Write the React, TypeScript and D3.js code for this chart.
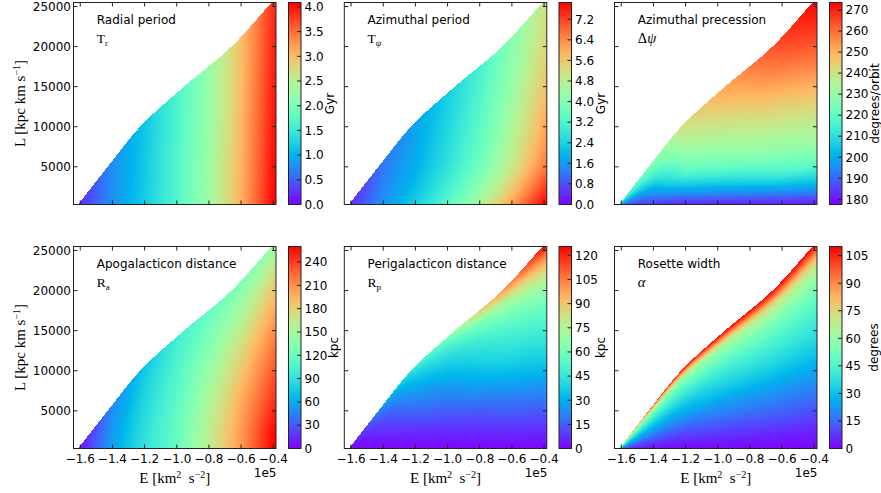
import React, { useMemo } from 'react';
import * as d3 from 'd3';

// ---------------- data ----------------
// Energy columns (units of 1e5 km^2 s^-2) and circularity rows (L / Lmax(E))
const E_COLS = [-1.6, -1.4, -1.2, -1.0, -0.8, -0.6, -0.4];
const C_ROWS = [0, 0.1, 0.2, 0.3, 0.4, 0.5, 0.6, 0.7, 0.8, 0.9, 1.0];

// upper boundary of the allowed region (circular-orbit angular momentum)
const BOUND_E = [-1.625, -1.43, -1.228, -0.955, -0.66, -0.41, -0.36];
const BOUND_L = [0, 5000, 10000, 15000, 20000, 25500, 26600];

const E_DOMAIN = [-1.642, -0.383];
const L_DOMAIN = [300, 25500];

const X_TICKS = [-1.6, -1.4, -1.2, -1.0, -0.8, -0.6, -0.4];
const Y_TICKS = [5000, 10000, 15000, 20000, 25000];

// Radial period T_r [Gyr]   rows: c = 0 .. 1, cols: E_COLS
const TR_GRID = [
  [0.25, 0.80, 1.20, 1.70, 2.30, 3.10, 4.05],
  [0.25, 0.80, 1.20, 1.69, 2.29, 3.09, 4.03],
  [0.25, 0.79, 1.19, 1.69, 2.28, 3.08, 4.01],
  [0.25, 0.79, 1.19, 1.68, 2.27, 3.06, 3.99],
  [0.24, 0.79, 1.18, 1.67, 2.26, 3.05, 3.97],
  [0.24, 0.78, 1.18, 1.67, 2.25, 3.04, 3.95],
  [0.24, 0.78, 1.17, 1.66, 2.24, 3.03, 3.93],
  [0.24, 0.78, 1.17, 1.65, 2.24, 3.01, 3.91],
  [0.24, 0.77, 1.16, 1.65, 2.23, 3.00, 3.89],
  [0.24, 0.77, 1.16, 1.64, 2.22, 2.99, 3.87],
  [0.24, 0.77, 1.15, 1.63, 2.21, 2.98, 3.85],
];

// Azimuthal period T_psi [Gyr]
const TPSI_GRID = [
  [0.51, 1.62, 2.43, 3.44, 4.65, 6.27, 7.85],
  [0.49, 1.54, 2.27, 3.15, 4.23, 5.62, 7.16],
  [0.48, 1.48, 2.14, 2.97, 3.91, 5.13, 6.53],
  [0.47, 1.44, 2.05, 2.79, 3.68, 4.87, 6.18],
  [0.46, 1.41, 1.95, 2.68, 3.54, 4.71, 5.98],
  [0.45, 1.36, 1.90, 2.61, 3.45, 4.58, 5.78],
  [0.44, 1.33, 1.85, 2.54, 3.36, 4.45, 5.59],
  [0.43, 1.30, 1.82, 2.49, 3.29, 4.32, 5.43],
  [0.42, 1.26, 1.77, 2.44, 3.21, 4.20, 5.28],
  [0.41, 1.24, 1.75, 2.39, 3.15, 4.11, 5.17],
  [0.40, 1.22, 1.71, 2.35, 3.08, 4.03, 5.06],
];

// Azimuthal precession [degrees/orbit]
const DPSI_GRID = [
  [178, 178, 178, 178, 178, 178, 178],
  [182, 187, 190, 193, 195, 198, 200],
  [186, 192, 200, 205, 210, 216, 219],
  [190, 197, 209, 217, 222, 226, 230],
  [194, 201, 218, 224, 230, 233, 237],
  [198, 206, 223, 230, 235, 239, 244],
  [202, 211, 228, 235, 240, 245, 251],
  [206, 216, 232, 239, 245, 251, 258],
  [210, 220, 236, 243, 250, 257, 264],
  [213, 224, 239, 247, 254, 262, 269],
  [216, 227, 242, 250, 258, 266, 273],
];

// Apogalacticon distance [kpc]
const RA_GRID = [
  [8, 57, 91, 117, 161, 208, 260],
  [8, 57, 90, 117, 160, 206, 256],
  [8, 56, 89, 116, 158, 203, 247],
  [8, 55, 88, 115, 155, 198, 238],
  [7, 54, 86, 113, 151, 191, 229],
  [7, 53, 84, 111, 146, 183, 220],
  [7, 52, 82, 109, 141, 174, 208],
  [7, 51, 80, 107, 135, 164, 195],
  [6, 50, 78, 104, 129, 153, 182],
  [6, 48, 76, 102, 123, 142, 162],
  [6, 47, 73, 99, 117, 130, 140],
];

// Perigalacticon distance [kpc]
const RP_GRID = [
  [0, 0, 0, 0, 0, 0, 0],
  [0.2, 2, 3, 4, 5, 6, 7],
  [0.4, 3, 6, 8, 10, 13, 15],
  [0.6, 5, 10, 13, 16, 20, 24],
  [0.8, 7, 14, 18, 23, 28, 34],
  [1.0, 9, 18, 23, 30, 36, 41],
  [1.3, 11, 22, 28, 36, 43, 49],
  [1.6, 14, 27, 34, 42, 50, 58],
  [2.0, 17, 32, 40, 49, 59, 71],
  [2.5, 21, 38, 48, 60, 74, 92],
  [3.0, 26, 48, 62, 88, 105, 125],
];

// Rosette width alpha [degrees]
const ALPHA_GRID = [
  [0, 0, 0, 0, 0, 0, 0],
  [4, 4, 4, 5, 5, 5, 5],
  [9, 9, 10, 11, 11, 12, 12],
  [14, 15, 15, 17, 18, 18, 19],
  [20, 21, 22, 23, 24, 25, 26],
  [26, 27, 28, 30, 31, 32, 33],
  [32, 33, 34, 36, 38, 39, 40],
  [39, 40, 42, 43, 45, 46, 47],
  [47, 49, 50, 52, 54, 55, 56],
  [58, 62, 62, 65, 68, 70, 72],
  [80, 100, 108, 110, 110, 110, 110],
];

const TR_TICKS = [0, 0.5, 1.0, 1.5, 2.0, 2.5, 3.0, 3.5, 4.0];
const TPSI_TICKS = [0, 0.8, 1.6, 2.4, 3.2, 4.0, 4.8, 5.6, 6.4, 7.2];
const DPSI_TICKS = [180, 190, 200, 210, 220, 230, 240, 250, 260, 270];
const RA_TICKS = [0, 30, 60, 90, 120, 150, 180, 210, 240];
const RP_TICKS = [0, 15, 30, 45, 60, 75, 90, 105, 120];
const ALPHA_TICKS = [0, 15, 30, 45, 60, 75, 90, 105];

// ---------------- layout ----------------
const W = 881;
const H = 493;
const AX_LEFT = [73.5, 344.3, 614.5];
const AX_TOP = [2.5, 246.5];
const AX_W = 202.5;
const AX_H = 202;
const CB_LEFT = [288.5, 559, 829.5];
const CB_W = 12.5;
const SERIF = '"Liberation Serif", "DejaVu Serif", serif';
const SANS = '"DejaVu Sans", sans-serif';

function rainbow(t: number): string {
  const u = Math.max(0, Math.min(1, t));
  const r = Math.min(1, Math.abs(2 * u - 0.5));
  const g = Math.max(0, Math.sin(Math.PI * u));
  const b = Math.max(0, Math.cos((Math.PI * u) / 2));
  return `rgb(${Math.round(r * 255)},${Math.round(g * 255)},${Math.round(b * 255)})`;
}

// monotone cubic (Fritsch-Carlson) for a smooth boundary through the read points
function makeMonotone(xs: number[], ys: number[]) {
  const n = xs.length;
  const dx: number[] = [], sl: number[] = [];
  for (let i = 0; i < n - 1; i++) {
    dx.push(xs[i + 1] - xs[i]);
    sl.push((ys[i + 1] - ys[i]) / dx[i]);
  }
  const m: number[] = new Array(n);
  m[0] = sl[0];
  m[n - 1] = sl[n - 2];
  for (let i = 1; i < n - 1; i++) {
    if (sl[i - 1] * sl[i] <= 0) m[i] = 0;
    else {
      const w1 = 2 * dx[i] + dx[i - 1];
      const w2 = dx[i] + 2 * dx[i - 1];
      m[i] = (w1 + w2) / (w1 / sl[i - 1] + w2 / sl[i]);
    }
  }
  return (x: number) => {
    if (x <= xs[0]) return ys[0] + m[0] * (x - xs[0]);
    if (x >= xs[n - 1]) return ys[n - 1] + m[n - 1] * (x - xs[n - 1]);
    const i = Math.max(0, Math.min(n - 2, d3.bisectRight(xs, x) - 1));
    const h = dx[i];
    const t = (x - xs[i]) / h;
    const t2 = t * t, t3 = t2 * t;
    return (2 * t3 - 3 * t2 + 1) * ys[i] + (t3 - 2 * t2 + t) * h * m[i] +
      (-2 * t3 + 3 * t2) * ys[i + 1] + (t3 - t2) * h * m[i + 1];
  };
}
const lmaxAt = makeMonotone(BOUND_E, BOUND_L);

function locate(arr: number[], v: number): [number, number] {
  if (v <= arr[0]) return [0, 0];
  if (v >= arr[arr.length - 1]) return [arr.length - 2, 1];
  const i = Math.max(0, d3.bisectRight(arr, v) - 1);
  return [i, (v - arr[i]) / (arr[i + 1] - arr[i])];
}

function gridValue(grid: number[][], e: number, c: number): number {
  const [i, fx] = locate(E_COLS, e);
  const [j, fy] = locate(C_ROWS, c);
  const v00 = grid[j][i], v01 = grid[j][i + 1];
  const v10 = grid[j + 1][i], v11 = grid[j + 1][i + 1];
  return (v00 * (1 - fx) + v01 * fx) * (1 - fy) + (v10 * (1 - fx) + v11 * fx) * fy;
}

type Panel = {
  row: number; col: number; grid: number[][]; vmin: number; vmax: number;
  ticks: number[]; fmt: (v: number) => string; title: string; sym: string;
  cbLabel: string; cbLabelDx: number;
};

const PANELS: Panel[] = [
  { row: 0, col: 0, grid: TR_GRID, vmin: 0, vmax: 4.09, ticks: TR_TICKS, fmt: v => v.toFixed(1), title: 'Radial period', sym: 'Tr', cbLabel: 'Gyr', cbLabelDx: 33 },
  { row: 0, col: 1, grid: TPSI_GRID, vmin: 0, vmax: 7.85, ticks: TPSI_TICKS, fmt: v => v.toFixed(1), title: 'Azimuthal period', sym: 'Tpsi', cbLabel: 'Gyr', cbLabelDx: 33 },
  { row: 0, col: 2, grid: DPSI_GRID, vmin: 177.5, vmax: 273.6, ticks: DPSI_TICKS, fmt: v => String(v), title: 'Azimuthal precession', sym: 'Dpsi', cbLabel: 'degrees/orbit', cbLabelDx: 36.5 },
  { row: 1, col: 0, grid: RA_GRID, vmin: 0, vmax: 260, ticks: RA_TICKS, fmt: v => String(v), title: 'Apogalacticon distance', sym: 'Ra', cbLabel: 'kpc', cbLabelDx: 36.5 },
  { row: 1, col: 1, grid: RP_GRID, vmin: 0, vmax: 125.5, ticks: RP_TICKS, fmt: v => String(v), title: 'Perigalacticon distance', sym: 'Rp', cbLabel: 'kpc', cbLabelDx: 33.5 },
  { row: 1, col: 2, grid: ALPHA_GRID, vmin: 0, vmax: 110, ticks: ALPHA_TICKS, fmt: v => String(v), title: 'Rosette width', sym: 'alpha', cbLabel: 'degrees', cbLabelDx: 35.5 },
];

function buildPaths(p: Panel) {
  const left = AX_LEFT[p.col];
  const top = AX_TOP[p.row];
  const xs = d3.scaleLinear().domain(E_DOMAIN).range([left, left + AX_W]);
  const ys = d3.scaleLinear().domain(L_DOMAIN).range([top + AX_H, top]);
  const buckets: string[] = new Array(256).fill('');
  const x0 = Math.floor(left), x1 = Math.ceil(left + AX_W);
  const y0 = Math.floor(top), y1 = Math.ceil(top + AX_H);
  for (let px = x0; px < x1; px++) {
    const E = xs.invert(px + 0.5);
    const Lm = lmaxAt(E);
    if (Lm <= 0) continue;
    let runK = -1, runStart = 0;
    const flush = (end: number) => {
      if (runK >= 0) buckets[runK] += `M${px},${runStart}h1v${end - runStart}h-1z`;
    };
    for (let py = y0; py < y1; py++) {
      const L = ys.invert(py + 0.5);
      let k = -1;
      if (L <= Lm) {
        const c = Math.max(0, L / Lm);
        const v = gridValue(p.grid, E, c);
        k = Math.floor(((v - p.vmin) / (p.vmax - p.vmin)) * 256);
        k = Math.max(0, Math.min(255, k));
      }
      if (k !== runK) {
        flush(py);
        runK = k;
        runStart = py;
      }
    }
    flush(y1);
  }
  const out: { d: string; fill: string }[] = [];
  buckets.forEach((d, k) => { if (d) out.push({ d, fill: rainbow(k / 255) }); });
  return out;
}

function Sym({ kind, x, y }: { kind: string; x: number; y: number }) {
  const fs = 13.5;
  const sub = 9;
  if (kind === 'Tr') return (<text x={x} y={y} fontFamily={SERIF} fontSize={fs}>T<tspan dy={3} fontSize={sub}>r</tspan></text>);
  if (kind === 'Tpsi') return (<text x={x} y={y} fontFamily={SERIF} fontSize={fs}>T<tspan dy={3} fontSize={sub} fontStyle="italic">ψ</tspan></text>);
  if (kind === 'Dpsi') return (<text x={x} y={y} fontFamily={SERIF} fontSize={fs + 1}>Δ<tspan fontStyle="italic">ψ</tspan></text>);
  if (kind === 'Ra') return (<text x={x} y={y} fontFamily={SERIF} fontSize={fs}>R<tspan dy={3} fontSize={sub}>a</tspan></text>);
  if (kind === 'Rp') return (<text x={x} y={y} fontFamily={SERIF} fontSize={fs}>R<tspan dy={3} fontSize={sub}>p</tspan></text>);
  return (<text x={x} y={y} fontFamily={SERIF} fontSize={fs + 1} fontStyle="italic">α</text>);
}

export default function App() {
  const paths = useMemo(() => PANELS.map(p => buildPaths(p)), []);
  const stops = d3.range(0, 1.0001, 0.02);

  return (
    <svg width={W} height={H} style={{ position: 'absolute', left: 0, top: 0, background: '#fff' }} fontFamily={SANS}>
      <defs>
        <linearGradient id="rainbowGrad" x1="0" y1="1" x2="0" y2="0">
          {stops.map((s, i) => <stop key={i} offset={s} stopColor={rainbow(s)} />)}
        </linearGradient>
        {PANELS.map((p, i) => (
          <clipPath id={`clip${i}`} key={i}>
            <rect x={AX_LEFT[p.col]} y={AX_TOP[p.row]} width={AX_W} height={AX_H} />
          </clipPath>
        ))}
      </defs>
      <rect x={0} y={0} width={W} height={H} fill="#fff" />
      {PANELS.map((p, i) => {
        const left = AX_LEFT[p.col];
        const top = AX_TOP[p.row];
        const right = left + AX_W;
        const bottom = top + AX_H;
        const xs = d3.scaleLinear().domain(E_DOMAIN).range([left, right]);
        const ys = d3.scaleLinear().domain(L_DOMAIN).range([bottom, top]);
        const cbL = CB_LEFT[p.col];
        const cbR = cbL + CB_W;
        const cs = d3.scaleLinear().domain([p.vmin, p.vmax]).range([bottom, top]);
        return (
          <g key={i}>
            <g clipPath={`url(#clip${i})`} shapeRendering="crispEdges">
              {paths[i].map((q, k) => <path key={k} d={q.d} fill={q.fill} />)}
            </g>
            {/* ticks on all four sides, pointing in */}
            {X_TICKS.map((t, k) => (
              <g key={'x' + k} stroke="#222" strokeWidth={1}>
                <line x1={xs(t)} x2={xs(t)} y1={bottom} y2={bottom - 4} />
                <line x1={xs(t)} x2={xs(t)} y1={top} y2={top + 4} />
              </g>
            ))}
            {Y_TICKS.map((t, k) => (
              <g key={'y' + k} stroke="#222" strokeWidth={1}>
                <line x1={left} x2={left + 4} y1={ys(t)} y2={ys(t)} />
                <line x1={right} x2={right - 4} y1={ys(t)} y2={ys(t)} />
              </g>
            ))}
            <rect x={left} y={top} width={AX_W} height={AX_H} fill="none" stroke="#222" strokeWidth={1} />
            {/* labels inside */}
            <text x={left + 23.3} y={top + 21.5} fontSize={12}>{p.title}</text>
            <Sym kind={p.sym} x={left + 23.3} y={top + 40} />
            {/* y tick labels on left column */}
            {p.col === 0 && Y_TICKS.map((t, k) => (
              <text key={'yl' + k} x={left - 2.5} y={ys(t) + 4.3} fontSize={12} textAnchor="end">{t}</text>
            ))}
            {p.col === 0 && (
              <text transform={`translate(25,${(top + bottom) / 2}) rotate(-90)`} textAnchor="middle" fontFamily={SERIF} fontSize={15}>
                L [kpc km s<tspan dy={-5} fontSize={10}>−1</tspan><tspan dy={5}>]</tspan>
              </text>
            )}
            {/* x tick labels on bottom row */}
            {p.row === 1 && X_TICKS.map((t, k) => (
              <text key={'xl' + k} x={xs(t)} y={bottom + 14.5} fontSize={12} textAnchor="middle">
                {(t < 0 ? '−' : '') + Math.abs(t).toFixed(1)}
              </text>
            ))}
            {p.row === 1 && (
              <text x={right + 0.5} y={bottom + 28.5} fontSize={12} textAnchor="end">1e5</text>
            )}
            {p.row === 1 && (
              <text x={(left + right) / 2} y={bottom + 34} textAnchor="middle" fontFamily={SERIF} fontSize={15}>
                E [km<tspan dy={-5} fontSize={10}>2</tspan><tspan dy={5}>{'\u00a0\u00a0'}s</tspan><tspan dy={-5} fontSize={10}>−2</tspan><tspan dy={5}>]</tspan>
              </text>
            )}
            {/* colorbar */}
            <rect x={cbL} y={top} width={CB_W} height={AX_H} fill="url(#rainbowGrad)" />
            {p.ticks.map((t, k) => (
              <g key={'c' + k}>
                <line x1={cbR} x2={cbR - 4} y1={cs(t)} y2={cs(t)} stroke="#222" strokeWidth={1} />
                <text x={cbR + 3.5} y={cs(t) + 4.3} fontSize={12}>{p.fmt(t)}</text>
              </g>
            ))}
            <rect x={cbL} y={top} width={CB_W} height={AX_H} fill="none" stroke="#222" strokeWidth={1} />
            <text transform={`translate(${cbR + p.cbLabelDx},${(top + bottom) / 2}) rotate(-90)`} textAnchor="middle" fontSize={12}>{p.cbLabel}</text>
          </g>
        );
      })}
    </svg>
  );
}
